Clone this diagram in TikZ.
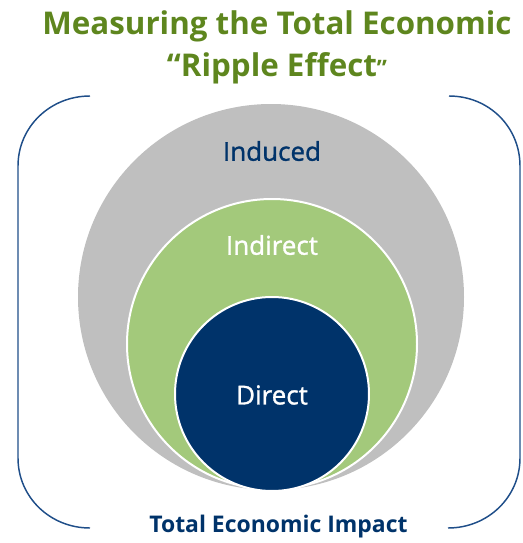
\documentclass[tikz,border=0pt]{standalone}
\usepackage{fontspec}
\setmainfont{Open Sans}
\newfontfamily\labelfont[FakeBold=1.2]{Open Sans}
\definecolor{ringgray}{HTML}{BFBFBF}
\definecolor{ringgreen}{HTML}{A3C97B}
\definecolor{navy}{HTML}{00336A}
\definecolor{titlegreen}{HTML}{5E861E}
\definecolor{bracketblue}{HTML}{1F4E89}
\begin{document}
\begin{tikzpicture}[x=0.75pt,y=-0.75pt,
  ring/.style={circle,inner sep=0pt,outer sep=0pt},
  lbl/.style={inner sep=0pt,font=\labelfont\fontsize{19.5}{22}\selectfont},
  bracket/.style={draw=bracketblue,line width=1.1pt}]
\useasboundingbox (0,0) rectangle (523,543);
% circles
\node[ring,fill=ringgray,minimum size=386*0.75pt] (outer) at (271,297) {};
\node[ring,fill=ringgreen,draw=white,line width=1.5pt,minimum size=290*0.75pt] (middle) at (272,344) {};
\node[ring,fill=navy,draw=white,line width=1.5pt,minimum size=194*0.75pt] (inner) at (272,394) {};
% labels
\node[lbl,text=navy] (induced) at (272,151) {Induced};
\node[lbl,text=white] (indirect) at (272,245) {Indirect};
\node[lbl,text=white] (direct) at (272,395) {Direct};
% title
\node[inner sep=0pt,text=titlegreen,font=\bfseries\fontsize{23.5}{31.5}\selectfont,align=center] (title) at (277,47) {Measuring the Total Economic\\“Ripple Effect{\fontsize{17}{20}\selectfont ”}};
% bottom text
\node[inner sep=0pt,text=navy,font=\bfseries\fontsize{17.2}{20}\selectfont] (total) at (278.5,527) {Total Economic Impact};
% brackets
\coordinate (ltop) at (90,96);
\coordinate (lbot) at (90,528);
\coordinate (rtop) at (449,96);
\coordinate (rbot) at (448,528);
\draw[bracket] (ltop) .. controls (50,96) and (18,127) .. (18,166) -- (18,458) .. controls (18,497) and (50,528) .. (lbot);
\draw[bracket] (rtop) .. controls (489,96) and (520,127) .. (520,166) -- (520,458) .. controls (520,497) and (488,528) .. (rbot);
\end{tikzpicture}
\end{document}
